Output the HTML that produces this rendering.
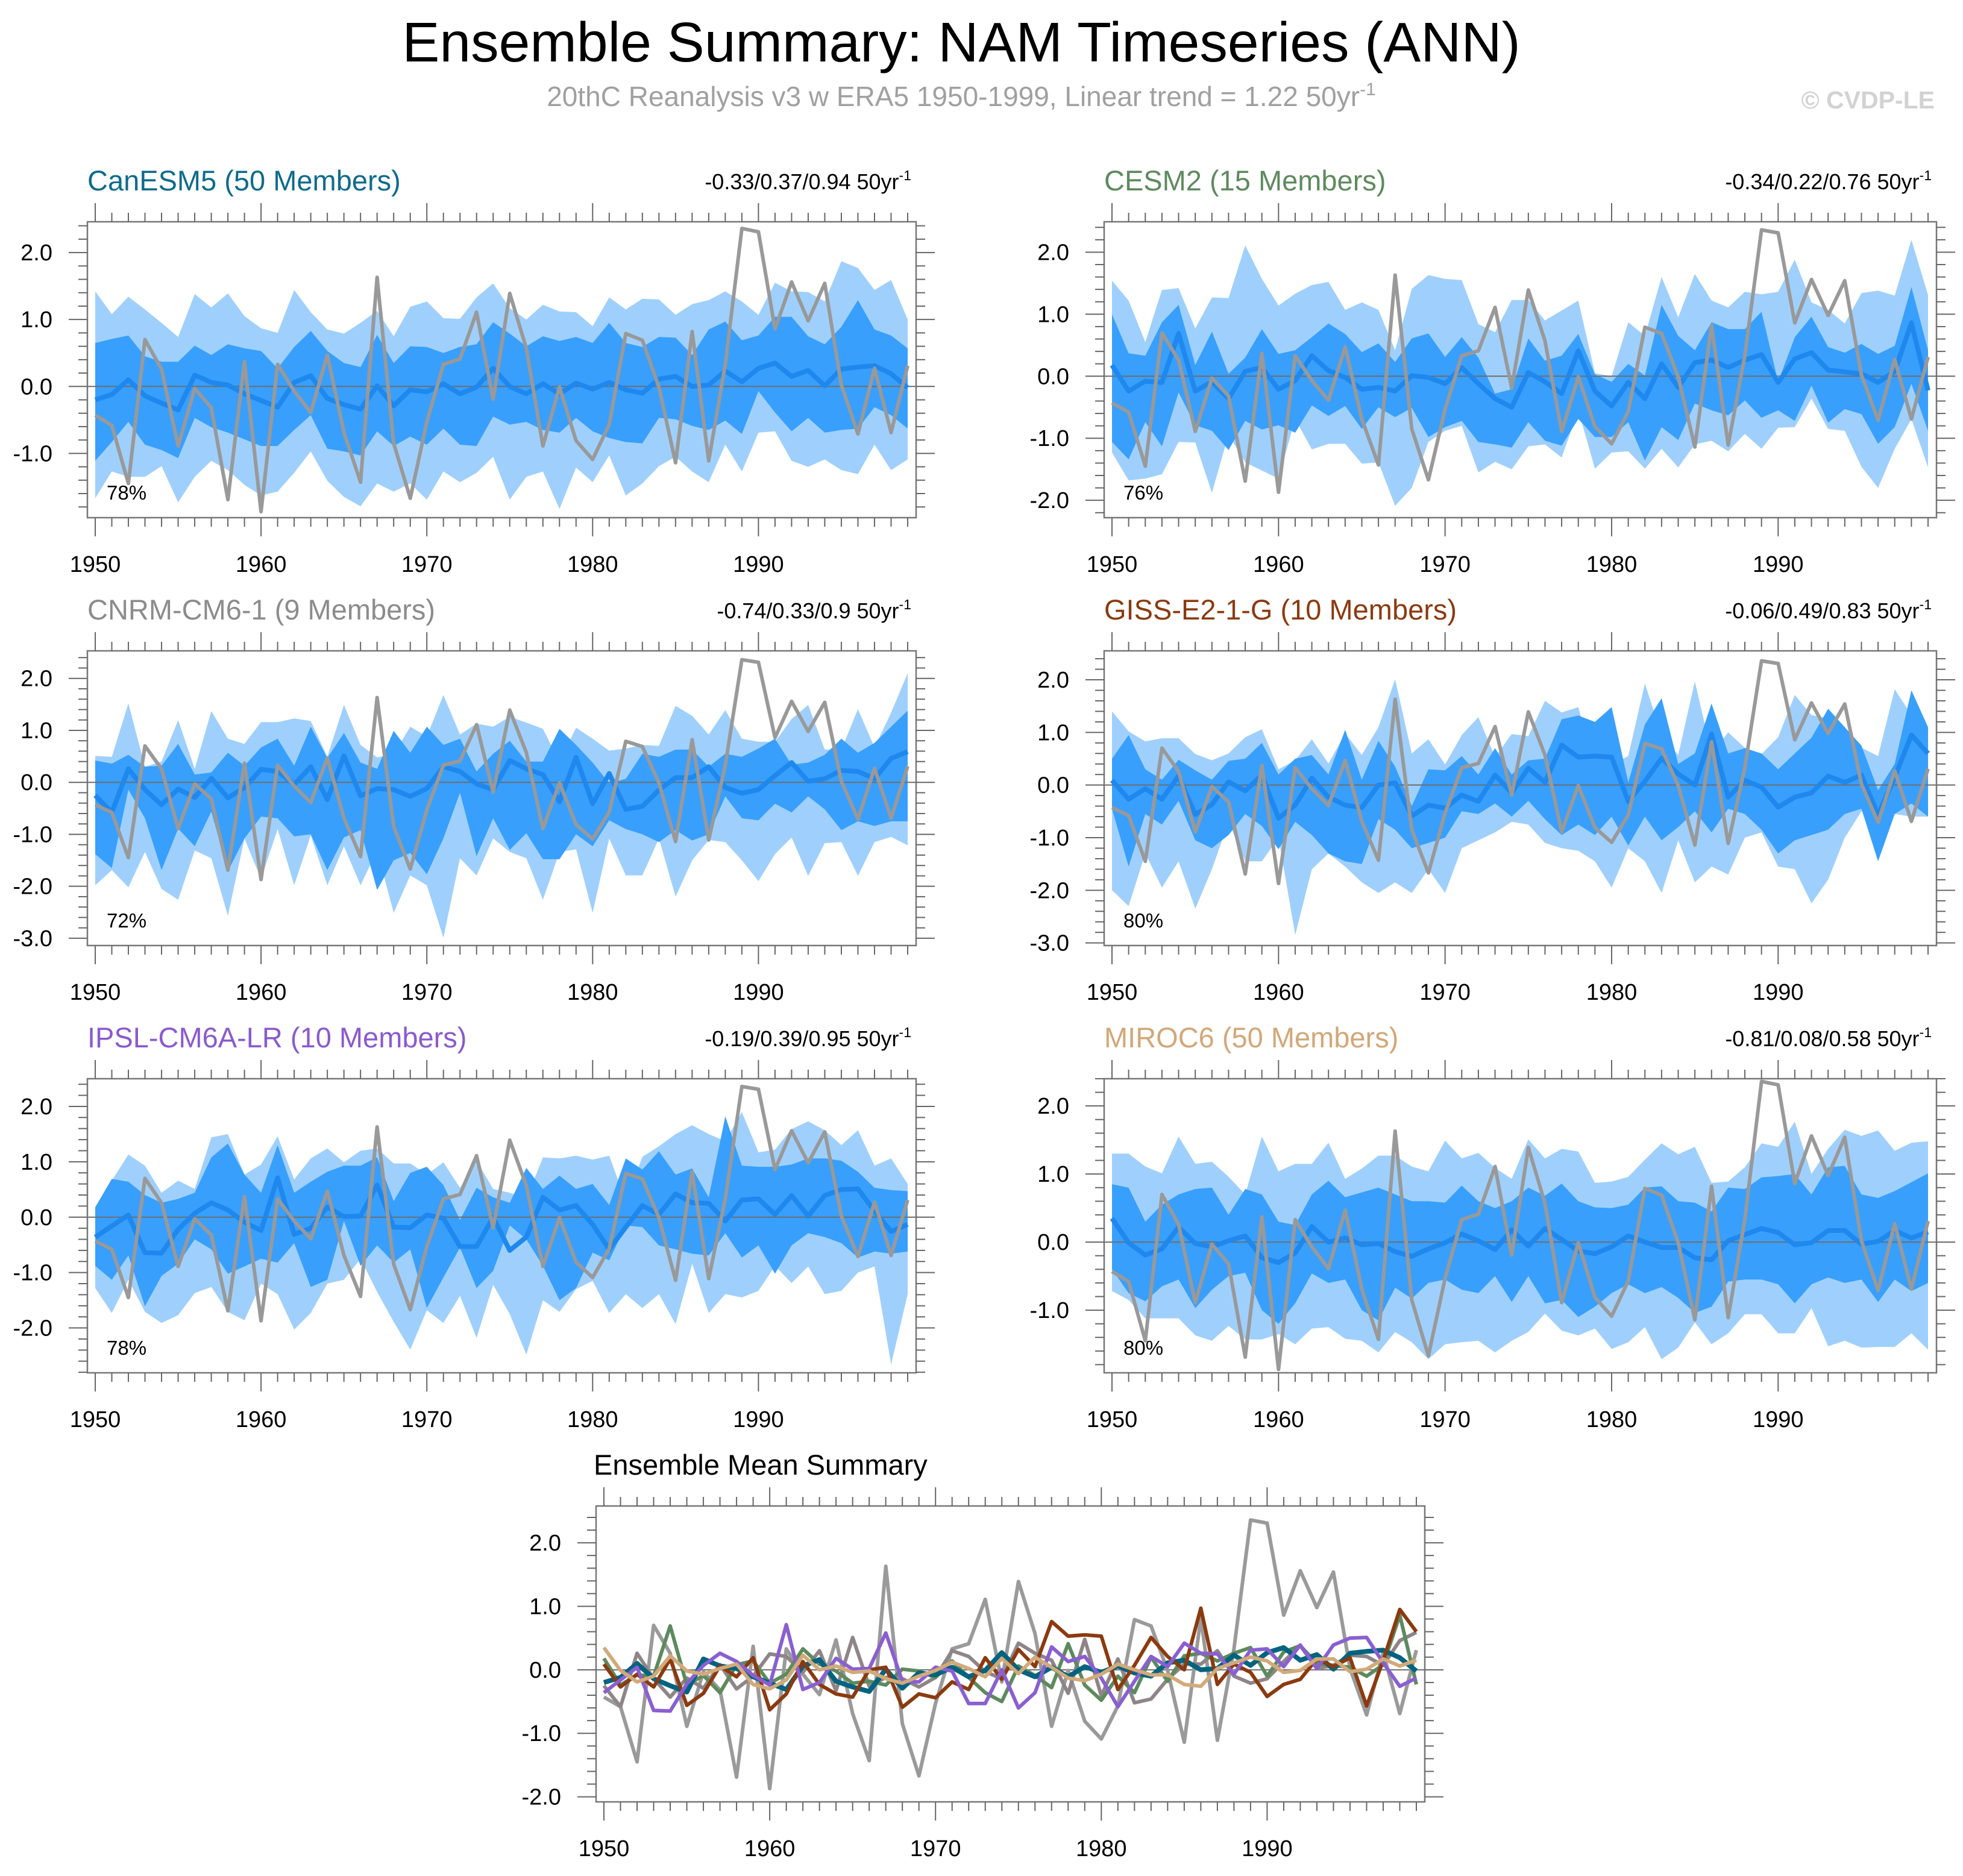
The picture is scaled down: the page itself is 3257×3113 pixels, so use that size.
<!DOCTYPE html>
<html><head><meta charset="utf-8">
<style>
html,body{margin:0;padding:0;background:#fff;}
svg{display:block;font-family:"Liberation Sans",Arial,sans-serif;}
</style></head>
<body>
<svg id="chart" width="3257" height="3113" viewBox="0 0 3257 3113" xmlns="http://www.w3.org/2000/svg">
<text x="1595" y="102" font-size="93" text-anchor="middle" fill="#000">Ensemble Summary: NAM Timeseries (ANN)</text>
<text x="1595" y="176" font-size="46" text-anchor="middle" fill="#a0a0a0">20thC Reanalysis v3 w ERA5 1950-1999, Linear trend = 1.22 50yr<tspan font-size="30" dy="-18">-1</tspan></text>
<text x="3210" y="180" font-size="41" font-weight="bold" text-anchor="end" fill="#d2d2d2">© CVDP-LE</text>
<g id="panels"></g>
</svg>
<script>
const years = [1950,1951,1952,1953,1954,1955,1956,1957,1958,1959,1960,1961,1962,1963,1964,1965,1966,1967,1968,1969,1970,1971,1972,1973,1974,1975,1976,1977,1978,1979,1980,1981,1982,1983,1984,1985,1986,1987,1988,1989,1990,1991,1992,1993,1994,1995,1996,1997,1998,1999];
const xTickLabels = [1950,1960,1970,1980,1990];
const obs = [-0.43,-0.58,-1.45,0.70,0.26,-0.89,-0.03,-0.32,-1.69,0.37,-1.87,0.33,-0.07,-0.39,0.47,-0.69,-1.43,1.63,-0.85,-1.67,-0.53,0.33,0.41,1.11,-0.19,1.39,0.57,-0.89,-0.01,-0.81,-1.09,-0.57,0.79,0.69,-0.01,-1.14,0.82,-1.11,0.33,2.36,2.31,0.86,1.56,0.98,1.54,0.02,-0.71,0.27,-0.69,0.31];

const canMean = [-0.20,-0.12,0.10,-0.14,-0.25,-0.35,0.17,0.06,0.02,-0.11,-0.21,-0.31,0.06,0.16,-0.18,-0.27,-0.34,0.01,-0.29,-0.05,-0.08,0.04,-0.11,-0.01,0.27,0.00,-0.11,0.04,-0.11,0.05,-0.04,0.06,-0.05,-0.10,0.11,0.15,0.00,0.02,0.23,0.07,0.27,0.35,0.15,0.24,0.01,0.26,0.29,0.31,0.19,-0.02];
const canLU = [1.42,1.08,1.34,1.15,0.95,0.74,1.38,1.18,1.39,1.05,0.87,0.80,1.44,1.11,0.85,0.79,0.95,1.13,0.75,1.19,1.27,1.02,1.01,1.33,1.54,1.17,1.00,1.22,1.12,1.11,0.90,1.33,1.15,1.31,1.30,1.07,1.23,1.29,1.42,1.27,1.07,1.55,1.42,1.41,1.27,1.87,1.77,1.44,1.59,1.00];
const canDU = [0.65,0.71,0.76,0.45,0.37,0.37,0.61,0.47,0.63,0.57,0.53,0.27,0.59,0.83,0.53,0.35,0.29,0.77,0.35,0.60,0.59,0.50,0.59,0.63,0.96,0.79,0.60,0.75,0.68,0.74,0.65,0.95,0.65,0.59,0.74,0.73,0.47,0.85,0.97,0.69,0.76,1.04,1.04,0.75,0.63,0.89,1.29,0.85,0.76,0.57];
const canDL = [-1.11,-0.83,-0.53,-0.87,-0.95,-1.07,-0.47,-0.61,-0.69,-0.79,-0.89,-0.89,-0.65,-0.43,-0.93,-0.97,-1.03,-0.67,-0.89,-0.75,-0.87,-0.63,-0.87,-0.89,-0.45,-0.57,-0.53,-0.65,-0.69,-0.47,-0.67,-0.77,-0.83,-0.85,-0.47,-0.49,-0.59,-0.65,-0.51,-0.71,-0.07,-0.39,-0.67,-0.47,-0.69,-0.65,-0.63,-0.31,-0.43,-0.63];
const canLL = [-1.67,-1.27,-1.35,-1.35,-1.19,-1.73,-1.35,-1.11,-1.25,-1.47,-1.63,-1.57,-1.29,-0.97,-1.41,-1.65,-1.79,-1.45,-1.57,-1.45,-1.69,-1.27,-1.43,-1.29,-1.05,-1.69,-1.35,-1.27,-1.83,-1.21,-1.43,-1.03,-1.63,-1.45,-1.19,-1.05,-1.27,-1.43,-0.87,-1.27,-0.69,-0.67,-1.11,-1.20,-1.09,-1.25,-1.31,-0.87,-1.25,-1.09];

const cesmMean = [0.18,-0.24,-0.08,-0.10,0.69,-0.24,-0.09,-0.36,0.08,0.14,-0.21,-0.07,0.33,0.09,-0.02,-0.21,-0.18,-0.24,0.01,-0.02,-0.12,0.14,-0.12,-0.36,-0.50,0.06,-0.09,-0.28,0.41,-0.24,-0.48,-0.10,-0.36,0.20,-0.18,0.22,0.26,0.14,0.26,0.35,-0.10,0.28,0.38,0.10,0.07,0.04,-0.10,0.08,0.86,-0.23];
const cesmLU = [1.54,1.22,0.55,1.39,1.42,0.77,1.27,1.26,2.11,1.57,1.14,1.33,1.47,1.52,1.07,1.19,1.07,0.42,1.41,1.63,1.57,1.55,0.84,0.71,1.23,1.23,0.90,1.06,1.22,0.05,0.00,0.87,0.65,1.60,0.95,1.65,1.22,1.11,1.36,1.32,1.36,1.88,1.19,1.07,0.85,1.34,1.38,1.30,2.20,1.31];
const cesmDU = [1.00,0.37,0.33,0.87,1.15,0.18,0.72,0.04,0.30,0.76,0.36,0.42,0.63,0.85,0.68,0.39,0.53,0.23,0.61,0.69,0.31,0.63,0.30,-0.28,-0.21,0.61,0.25,0.33,0.68,0.03,-0.09,0.20,0.01,1.15,0.65,0.42,0.87,0.76,0.76,1.04,-0.09,0.63,0.96,0.47,0.38,0.52,0.36,0.49,1.44,0.42];
const cesmDL = [-1.06,-1.34,-0.74,-1.13,-0.26,-0.79,-0.88,-1.19,-0.72,-0.86,-0.79,-0.91,-0.47,-0.64,-0.48,-0.85,-0.50,-0.66,-0.51,-0.98,-0.82,-0.72,-1.06,-1.10,-1.15,-0.74,-1.04,-1.12,-0.69,-0.98,-0.98,-0.74,-1.36,-0.82,-1.03,-0.44,-0.55,-0.63,-0.39,-0.67,-0.55,-0.72,-0.15,-0.75,-0.53,-0.61,-1.09,-0.82,-0.12,-0.88];
const cesmLL = [-1.23,-1.68,-1.65,-1.58,-1.06,-1.07,-1.88,-0.94,-1.39,-1.52,-1.65,-0.69,-1.18,-1.09,-1.09,-1.41,-1.39,-2.09,-1.80,-1.06,-0.88,-0.80,-1.55,-1.38,-1.50,-1.13,-1.10,-1.31,-0.55,-1.49,-1.23,-1.21,-1.49,-1.17,-1.47,-1.10,-1.04,-1.21,-0.93,-1.17,-0.83,-0.82,-0.36,-0.85,-0.88,-1.46,-1.80,-1.17,-0.69,-1.47];

const cnrmMean = [-0.25,-0.58,0.26,-0.14,-0.43,-0.13,-0.29,0.08,-0.30,-0.10,0.25,0.21,-0.04,0.30,-0.33,0.51,-0.26,-0.12,-0.14,-0.27,-0.12,0.30,0.21,-0.03,-0.14,0.42,0.26,0.15,-0.37,0.48,-0.41,0.17,-0.52,-0.46,-0.15,0.09,0.09,0.30,-0.10,-0.21,-0.14,0.13,0.38,0.02,0.07,0.23,0.21,0.07,0.46,0.59];
const cnrmLU = [0.51,0.49,1.52,0.30,0.40,1.20,0.26,1.37,0.84,0.74,1.16,1.16,1.23,1.18,0.49,1.49,0.72,0.48,0.54,1.07,0.88,1.68,0.92,1.13,1.07,1.26,1.15,1.03,0.40,1.05,0.84,0.61,0.65,0.72,0.70,1.47,1.28,0.92,1.39,0.84,0.78,0.78,1.22,1.49,0.63,0.63,1.41,0.67,1.34,2.10];
const cnrmDU = [0.42,0.36,0.53,0.30,0.32,0.74,0.15,0.19,0.57,0.32,0.67,0.84,0.32,1.07,0.47,0.95,0.38,0.26,0.99,0.57,1.07,0.72,0.84,0.21,0.55,0.80,0.40,0.40,1.03,0.72,0.38,-0.02,0.07,0.55,0.49,0.63,0.63,0.30,0.55,0.49,0.65,0.84,0.34,0.38,0.53,0.84,0.57,0.76,1.07,1.38];
const cnrmDL = [-1.38,-1.65,-0.14,-0.69,-1.69,-0.89,-1.23,-0.56,-1.71,-1.08,-0.66,-0.69,-1.04,-1.00,-1.69,-1.06,-0.92,-2.07,-1.50,-1.36,-1.77,-1.08,-0.20,-1.42,-0.69,-1.30,-0.98,-1.48,-1.48,-1.00,-1.23,-0.73,-0.90,-1.00,-1.15,-0.92,-1.12,-1.00,-0.27,-0.69,-0.73,-0.41,-0.58,-0.27,-0.52,-0.92,-0.75,-0.84,-0.75,-0.75];
const cnrmLL = [-1.98,-1.69,-2.02,-1.34,-2.05,-2.26,-1.31,-1.46,-2.57,-1.08,-1.86,-0.90,-1.98,-1.02,-1.98,-1.23,-1.98,-1.31,-2.51,-1.79,-1.98,-2.99,-1.46,-1.79,-1.08,-1.34,-1.46,-2.26,-1.34,-1.29,-2.51,-1.08,-1.79,-1.79,-1.08,-2.20,-1.50,-1.11,-1.15,-1.50,-1.90,-1.38,-1.06,-1.80,-1.17,-1.15,-1.80,-1.15,-1.05,-1.21];

const gissMean = [0.09,-0.27,-0.07,-0.27,0.17,-0.56,-0.37,0.06,-0.11,0.19,-0.63,-0.38,0.13,-0.23,-0.38,-0.43,0.00,0.04,-0.59,-0.38,-0.44,-0.19,-0.31,0.19,-0.15,0.32,0.05,0.76,0.53,0.55,0.53,-0.31,0.07,0.51,0.21,0.00,0.97,-0.23,0.09,-0.04,-0.42,-0.23,-0.15,0.17,0.05,0.19,-0.57,0.15,0.95,0.60];
const gissLU = [1.40,1.02,0.83,0.89,0.89,0.59,0.47,0.60,0.91,1.06,0.30,0.47,0.87,0.41,0.98,0.57,1.10,2.01,0.60,0.87,0.39,0.95,1.29,0.53,0.97,0.93,1.60,1.38,1.48,0.34,0.39,0.55,1.93,0.95,0.57,1.97,0.60,1.00,0.71,0.59,0.91,1.71,1.33,1.27,0.49,0.71,0.55,1.82,1.33,1.10];
const gissDU = [0.50,0.95,0.30,0.10,0.48,0.28,0.10,0.46,0.50,0.80,0.20,0.50,0.57,0.20,1.05,0.10,0.84,0.35,-0.40,0.30,0.28,0.55,0.20,0.70,0.20,0.47,0.50,1.25,1.32,1.20,1.48,0.05,1.15,1.65,0.40,0.60,1.55,0.60,0.70,0.60,0.30,0.60,0.90,1.45,1.10,0.75,-0.10,0.40,1.80,1.10];
const gissDL = [-0.45,-1.55,-0.55,-0.75,-0.30,-1.05,-1.20,-0.95,-0.55,-0.78,-1.22,-0.70,-0.95,-1.30,-1.45,-1.50,-0.65,-0.85,-1.20,-1.10,-1.00,-0.50,-0.55,-0.35,-0.60,-0.30,-0.65,-0.95,-0.75,-0.95,-0.60,-1.15,-0.60,-1.05,-0.80,-0.50,-0.90,-0.45,-0.55,-0.85,-1.30,-1.05,-0.95,-0.85,-0.55,-0.45,-1.45,-0.55,-0.35,-0.60];
const gissLL = [-2.00,-2.30,-1.30,-1.95,-1.45,-2.35,-1.60,-0.70,-1.45,-1.45,-1.00,-2.85,-1.60,-1.30,-1.55,-1.85,-2.05,-1.85,-2.05,-1.60,-2.05,-1.20,-1.05,-0.90,-0.70,-0.75,-1.10,-1.20,-1.25,-1.45,-1.95,-1.20,-1.45,-2.05,-1.05,-1.85,-1.55,-1.70,-1.00,-0.90,-1.55,-1.60,-2.25,-1.80,-1.00,-0.50,-0.55,-0.55,-0.60,-0.60];

const ipslMean = [-0.36,-0.16,0.04,-0.64,-0.65,-0.22,0.07,0.26,0.13,-0.09,-0.24,0.71,-0.31,-0.20,0.18,0.01,0.02,0.58,-0.18,-0.19,0.04,-0.02,-0.53,-0.53,0.00,-0.60,-0.36,0.36,0.13,0.21,-0.13,-0.58,-0.18,0.21,0.05,0.42,0.26,0.25,-0.07,0.31,0.33,0.05,0.39,0.02,0.39,0.50,0.51,0.11,-0.26,-0.13];
const ipslLU = [0.18,0.66,1.13,0.93,0.44,0.66,0.51,1.44,1.50,0.77,0.95,1.46,0.68,1.06,1.24,0.99,1.20,1.24,0.97,0.97,0.77,0.99,0.53,1.02,0.51,0.44,0.33,1.08,1.06,1.11,1.04,1.11,0.29,1.09,1.28,1.50,1.66,1.50,1.37,1.90,1.17,1.22,1.59,1.73,1.57,1.30,1.57,0.93,1.06,0.60];
const ipslDU = [0.18,0.69,0.64,0.40,0.26,0.33,0.44,1.08,1.33,0.77,0.44,1.30,0.44,0.64,0.82,0.93,0.93,1.08,0.29,0.80,0.91,0.58,-0.05,0.53,0.36,0.26,0.89,0.51,0.75,0.51,0.60,0.22,1.06,0.86,1.19,0.77,0.88,0.36,1.82,0.93,0.91,0.91,0.95,1.06,1.06,1.02,0.82,0.53,0.49,0.47];
const ipslDL = [-0.88,-1.13,-0.69,-1.61,-1.06,-0.84,-0.40,-0.58,-1.02,-0.89,-0.75,-0.82,-0.47,-1.26,-1.13,-0.07,-0.88,-0.51,-0.82,-0.58,-1.64,-1.09,-0.55,-1.28,-0.97,-0.15,-0.40,-0.88,-1.50,-1.28,-0.64,-0.78,-0.15,-0.18,-0.51,-0.58,-0.66,-0.69,-0.29,-0.73,-0.51,-1.02,-0.51,-0.29,-0.36,-0.47,-0.73,-0.62,-0.66,-0.62];
const ipslLL = [-1.28,-1.73,-1.13,-1.71,-1.91,-1.77,-1.37,-1.26,-1.71,-1.86,-1.20,-1.39,-2.03,-1.73,-1.20,-1.13,-0.75,-1.35,-1.89,-2.39,-1.68,-1.91,-1.42,-2.18,-1.22,-1.75,-2.48,-1.50,-1.71,-1.30,-1.15,-1.73,-1.39,-1.64,-1.39,-1.93,-0.84,-1.73,-1.39,-1.45,-1.33,-0.88,-1.19,-0.89,-1.39,-1.33,-1.00,-0.89,-2.66,-1.39];

const mirocMean = [0.35,-0.01,-0.19,-0.10,0.22,-0.02,-0.07,0.02,0.09,-0.23,-0.30,-0.16,0.23,0.00,0.06,-0.04,-0.02,-0.14,-0.21,-0.10,-0.01,0.12,0.02,-0.11,0.18,-0.06,0.20,0.04,-0.13,-0.17,-0.07,0.09,0.00,-0.08,-0.08,-0.23,-0.26,0.02,0.11,0.20,0.14,-0.04,-0.01,0.17,0.17,-0.03,0.01,0.17,0.06,0.15];
const mirocLU = [1.30,1.30,1.11,1.01,1.55,1.15,1.18,0.96,0.70,1.55,1.04,1.15,1.15,1.46,0.93,1.08,1.27,1.27,1.11,1.04,1.49,1.23,1.31,1.09,0.93,1.51,1.23,1.37,1.33,0.87,0.89,0.96,1.21,1.45,1.29,1.40,0.87,0.89,1.10,1.45,1.40,1.77,1.00,1.37,1.65,1.56,1.64,1.34,1.46,1.48];
const mirocDU = [0.85,0.80,0.30,0.55,0.70,0.78,0.80,0.40,0.78,0.70,0.30,0.25,0.70,0.90,0.66,0.73,0.80,0.70,0.60,0.60,0.58,0.83,0.60,0.50,0.60,0.80,0.68,0.86,0.60,0.51,0.50,0.55,0.80,0.82,0.60,0.58,0.45,0.80,0.78,0.95,0.97,1.00,0.70,1.10,1.12,0.70,0.65,0.75,0.88,1.01];
const mirocDL = [-0.40,-0.75,-0.87,-0.65,-0.55,-0.97,-0.70,-0.50,-0.45,-1.00,-1.20,-0.90,-0.46,-0.60,-0.55,-1.00,-1.15,-0.67,-0.83,-0.60,-0.55,-0.70,-0.75,-0.50,-0.88,-0.50,-0.90,-0.85,-1.10,-0.95,-0.75,-0.62,-0.75,-0.66,-0.82,-1.04,-0.95,-0.58,-0.55,-0.55,-0.62,-0.90,-0.62,-0.52,-0.60,-0.55,-0.88,-0.55,-0.72,-0.60];
const mirocLL = [-0.72,-0.85,-1.12,-1.12,-1.12,-1.37,-1.45,-1.23,-1.43,-1.43,-1.35,-1.50,-1.27,-1.25,-1.42,-1.45,-1.62,-1.32,-1.47,-1.72,-1.50,-1.47,-1.45,-1.62,-1.45,-1.32,-1.05,-1.30,-1.37,-1.27,-1.57,-1.47,-1.25,-1.72,-1.55,-1.18,-1.50,-1.34,-1.06,-1.06,-1.34,-1.34,-0.97,-1.53,-1.45,-1.55,-1.54,-1.54,-1.34,-1.58];

const panelNames = ["CanESM5 (50 Members)","CESM2 (15 Members)","CNRM-CM6-1 (9 Members)","GISS-E2-1-G (10 Members)","IPSL-CM6A-LR (10 Members)","MIROC6 (50 Members)"];
const trendLabels = ["-0.33/0.37/0.94 50yr","-0.34/0.22/0.76 50yr","-0.74/0.33/0.9 50yr","-0.06/0.49/0.83 50yr","-0.19/0.39/0.95 50yr","-0.81/0.08/0.58 50yr"];
const pctLabels = ["78%","76%","72%","80%","78%","80%"];
const yTickSets = [[2,1,0,-1],[2,1,0,-1,-2],[2,1,0,-1,-2,-3],[2,1,0,-1,-2,-3],[2,1,0,-1,-2],[2,1,0,-1]];

const NS="http://www.w3.org/2000/svg";
const root=document.getElementById('panels');
function el(tag,attrs,parent){const e=document.createElementNS(NS,tag);for(const k in attrs)e.setAttribute(k,attrs[k]);(parent||root).appendChild(e);return e;}

const panelColors=["#0f6b8c","#5e8a5e","#8c8c8c","#8b3a0f","#8a5ad0","#d2a878"];
const lineColors=["#00637f","#5d8a5d","#8f8588","#8b3a0f","#8a5fd1","#d2aa7a"];
const bands=[[canLU,canDU,canDL,canLL,canMean],[cesmLU,cesmDU,cesmDL,cesmLL,cesmMean],[cnrmLU,cnrmDU,cnrmDL,cnrmLL,cnrmMean],[gissLU,gissDU,gissDL,gissLL,gissMean],[ipslLU,ipslDU,ipslDL,ipslLL,ipslMean],[mirocLU,mirocDU,mirocDL,mirocLL,mirocMean]];
const frames=[
 {L:145,R:1520,T:368,B:859,ymin:-1.96,ymax:2.46},
 {L:1832,R:3213,T:368,B:859,ymin:-2.28,ymax:2.49},
 {L:145,R:1520,T:1080,B:1569,ymin:-3.14,ymax:2.53},
 {L:1832,R:3213,T:1080,B:1569,ymin:-3.05,ymax:2.55},
 {L:145,R:1520,T:1790,B:2278,ymin:-2.81,ymax:2.5},
 {L:1832,R:3213,T:1790,B:2278,ymin:-1.92,ymax:2.4}];

function axes(g,f,yTicks,name){
  const xs=i=>f.L+13+i*(f.R-f.L-27)/49;
  const ys=v=>f.T+(f.ymax-v)/(f.ymax-f.ymin)*(f.B-f.T);
  const fr=el('rect',{x:f.L,y:f.T,width:f.R-f.L,height:f.B-f.T,fill:'none',stroke:'#777','stroke-width':2.5},g);
  
  
  const xg=el('g',{},g);
  
  
  for(let i=0;i<years.length;i++){
    const major=years[i]%10===0, x=xs(i);
    const len=major?31:15;
    el('line',{x1:x,y1:f.B,x2:x,y2:f.B+len,stroke:'#666','stroke-width':2},xg);
    el('line',{x1:x,y1:f.T,x2:x,y2:f.T-len,stroke:'#666','stroke-width':2},xg);
  }
  xTickLabels.forEach(yr=>{
    const t=el('text',{x:xs(years.indexOf(yr)),y:f.B+90,'font-size':38,'text-anchor':'middle',fill:'#000'},xg);
    t.textContent=yr;
  });
  const yg=el('g',{},g);
  
  
  const lo=Math.ceil(f.ymin*5), hi=Math.floor(f.ymax*5);
  for(let k=lo;k<=hi;k++){
    const v=k/5, y=ys(v), major=(k%5===0);
    const len=major?31:15;
    el('line',{x1:f.L,y1:y,x2:f.L-len,y2:y,stroke:'#666','stroke-width':2},yg);
    el('line',{x1:f.R,y1:y,x2:f.R+len,y2:y,stroke:'#666','stroke-width':2},yg);
  }
  yTicks.forEach(v=>{
    const t=el('text',{x:f.L-58,y:ys(v)+13,'font-size':38,'text-anchor':'end',fill:'#000'},yg);
    t.textContent=v.toFixed(1);
  });
  return {xs,ys};
}
function pathFrom(arr,xs,ys){return arr.map((v,i)=>(i?'L':'M')+xs(i).toFixed(1)+','+ys(v).toFixed(1)).join(' ');}
function bandPath(up,low,xs,ys){
  let d=up.map((v,i)=>(i?'L':'M')+xs(i).toFixed(1)+','+ys(v).toFixed(1)).join(' ');
  for(let i=low.length-1;i>=0;i--)d+=' L'+xs(i).toFixed(1)+','+ys(low[i]).toFixed(1);
  return d+' Z';
}

frames.forEach((f,p)=>{
  const g=el('g',{});
  
  
  const [LU,DU,DL,LL,MEAN]=bands[p];
  const xs=i=>f.L+13+i*(f.R-f.L-27)/49;
  const ys=v=>f.T+(f.ymax-v)/(f.ymax-f.ymin)*(f.B-f.T);
  const b1=el('path',{d:bandPath(LU,LL,xs,ys),fill:'#9fd0fd'},g);
  
  
  const b2=el('path',{d:bandPath(DU,DL,xs,ys),fill:'#389ffd'},g);
  
  
  const z=el('line',{x1:f.L,y1:ys(0),x2:f.R,y2:ys(0),stroke:'#6e6e6e','stroke-width':2},g);
  
  
  const m=el('path',{d:pathFrom(MEAN,xs,ys),fill:'none',stroke:'#1e88ee','stroke-width':8,'stroke-linejoin':'round'},g);
  
  
  const o=el('path',{d:pathFrom(obs,xs,ys),fill:'none',stroke:'#999','stroke-width':6,'stroke-linejoin':'round'},g);
  
  
  axes(g,f,yTickSets[p],'panel-'+p);
  const t=el('text',{x:f.L,y:f.T-52,'font-size':47,fill:panelColors[p]},g);
  t.textContent=panelNames[p];
  
  
  const tr=el('text',{x:f.R-8,y:f.T-54,'font-size':36,'text-anchor':'end',fill:'#000'},g);
  tr.textContent=trendLabels[p];
  const sup=el('tspan',{'font-size':23,dy:-15},tr);sup.textContent='-1';
  
  
  const pc=el('text',{x:f.L+32,y:f.B-30,'font-size':33,fill:'#000'},g);
  pc.textContent=pctLabels[p];
  
  
});

(function(){
  const f={L:989,R:2364,T:2499,B:2990,ymin:-2.08,ymax:2.58};
  const g=el('g',{});
  
  
  const xs=i=>f.L+13+i*(f.R-f.L-27)/49;
  const ys=v=>f.T+(f.ymax-v)/(f.ymax-f.ymin)*(f.B-f.T);
  const z=el('line',{x1:f.L,y1:ys(0),x2:f.R,y2:ys(0),stroke:'#6e6e6e','stroke-width':2},g);
  
  
  const o=el('path',{d:pathFrom(obs,xs,ys),fill:'none',stroke:'#9a9a9a','stroke-width':6,'stroke-linejoin':'round'},g);
  
  
  const order=[2,1,0,3,4,5];
  order.forEach(p=>{
    const l=el('path',{d:pathFrom(bands[p][4],xs,ys),fill:'none',stroke:lineColors[p],'stroke-width':p===0?8:6,'stroke-linejoin':'round'},g);
    
    
  });
  axes(g,f,[2,1,0,-1,-2],'summary');
  const t=el('text',{x:985,y:2447,'font-size':47,fill:'#000'},g);
  t.textContent='Ensemble Mean Summary';
  
  
})();
</script>
</body></html>
